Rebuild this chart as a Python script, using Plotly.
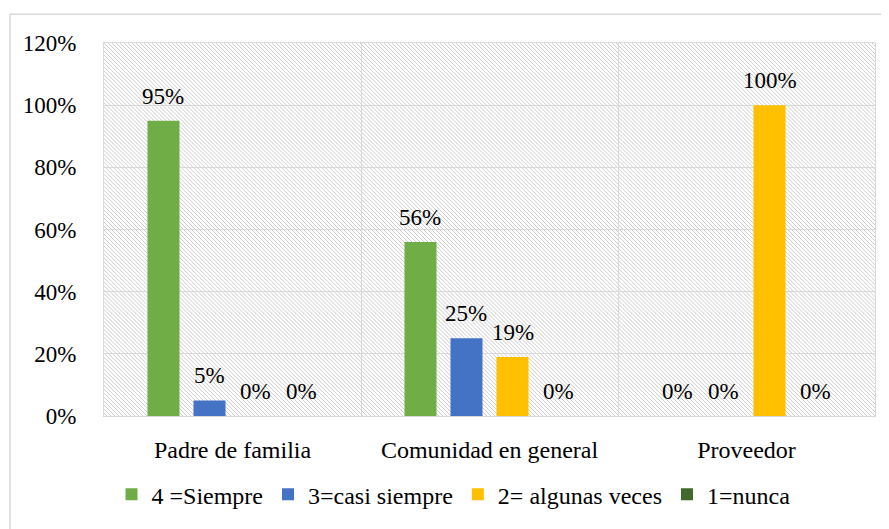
import plotly.graph_objects as go
import base64

categories = ["Padre de familia", "Comunidad en general", "Proveedor"]
series_names = ["4 =Siempre", "3=casi siempre", "2= algunas veces", "1=nunca"]
siempre = [0.95, 0.56, 0.0]
casi_siempre = [0.05, 0.25, 0.0]
algunas_veces = [0.0, 0.19, 1.0]
nunca = [0.0, 0.0, 0.0]
series_values = [siempre, casi_siempre, algunas_veces, nunca]
colors = ["#70AD47", "#4472C4", "#FFC000", "#43682B"]
y_ticks = [0, 0.2, 0.4, 0.6, 0.8, 1.0, 1.2]
y_tick_labels = ["0%", "20%", "40%", "60%", "80%", "100%", "120%"]

OFF = 8  # default body margin of the page
W, H = 889 - OFF, 529 - OFF
PL, PT, PR, PB = 104, 43, 875, 418  # plot area in page pixels
L, T = PL - OFF, PT - OFF
pw, ph = PR - PL, PB - PT
R, B = W - L - pw, H - T - ph

FONT = "Liberation Serif, Times New Roman, serif"
BARGAP = 0.284
GROUPGAP = 0.304

fig = go.Figure()
for name, vals, col in zip(series_names, series_values, colors):
    fig.add_trace(go.Bar(
        x=categories, y=vals, name=name,
        marker=dict(color=col, line=dict(width=0)),
        cliponaxis=False,
    ))

# data labels above each bar
n = len(series_names)
slot = pw / len(categories) * (1 - BARGAP) / n
annotations = []
for i, vals in enumerate(series_values):
    for c, v in zip(categories, vals):
        annotations.append(dict(
            x=c, y=v, xref="x", yref="y", text=f"{round(v*100)}%",
            showarrow=False, xanchor="center", yanchor="bottom",
            xshift=(i - (n - 1) / 2) * slot, yshift=10,
            font=dict(family=FONT, size=23, color="#000000"),
        ))

# hatch background as svg image
HC = "#cccccc"
svg = f'''<svg xmlns="http://www.w3.org/2000/svg" width="{pw}" height="{ph}">
<defs><pattern id="p" width="4" height="4" patternUnits="userSpaceOnUse">
<rect x="0" y="0" width="1" height="1" fill="{HC}"/>
<rect x="1" y="1" width="1" height="1" fill="{HC}"/>
<rect x="2" y="2" width="1" height="1" fill="{HC}"/>
<rect x="3" y="3" width="1" height="1" fill="{HC}"/>
</pattern></defs>
<rect width="{pw}" height="{ph}" fill="#ffffff"/>
<rect width="{pw}" height="{ph}" fill="url(#p)"/>
</svg>'''
uri = "data:image/svg+xml;base64," + base64.b64encode(svg.encode()).decode()

# outer chart frame (page pixels); right and bottom edges lie outside the view
FX0, FY0, FX1, FY1 = 10, 14, 900, 545

fig.update_layout(
    width=W, height=H,
    margin=dict(l=L, r=R, t=T, b=B),
    paper_bgcolor="#ffffff",
    plot_bgcolor="rgba(0,0,0,0)",
    barmode="group",
    bargap=BARGAP,
    bargroupgap=GROUPGAP,
    font=dict(family=FONT, size=23, color="#000000"),
    showlegend=True,
    legend=dict(orientation="h", x=0.5 - 36 / pw, xanchor="center", y=-(497 - PB) / ph, yanchor="middle",
                font=dict(family=FONT, size=24, color="#000000"),
                traceorder="normal", itemclick=False, itemwidth=30),
    annotations=annotations,
    images=[dict(source=uri, xref="paper", yref="paper", x=0, y=1, sizex=1, sizey=1,
                 xanchor="left", yanchor="top", sizing="stretch", layer="below")],
    shapes=[dict(type="rect", xref="paper", yref="paper",
                 x0=(FX0 - PL) / pw, x1=(FX1 - PL) / pw,
                 y0=(PB - FY1) / ph, y1=(PB - FY0) / ph,
                 line=dict(color="#D9D9D9", width=1.5), fillcolor="rgba(0,0,0,0)", layer="below")],
)
fig.update_xaxes(
    type="category", tickson="boundaries", showgrid=True, gridcolor="#D9D9D9", gridwidth=1,
    showline=True, linecolor="#D9D9D9", linewidth=1, mirror=True,
    ticks="", ticklabelstandoff=12,
    tickfont=dict(family=FONT, size=24, color="#000000"),
)
fig.update_yaxes(
    range=[0, 1.2], tickvals=y_ticks, ticktext=y_tick_labels,
    showgrid=True, gridcolor="#D9D9D9", gridwidth=1, zeroline=False,
    showline=True, linecolor="#D9D9D9", linewidth=1, mirror=True,
    ticks="", ticklabelstandoff=22,
    tickfont=dict(family=FONT, size=23, color="#000000"),
)

fig.write_html("out.html")
